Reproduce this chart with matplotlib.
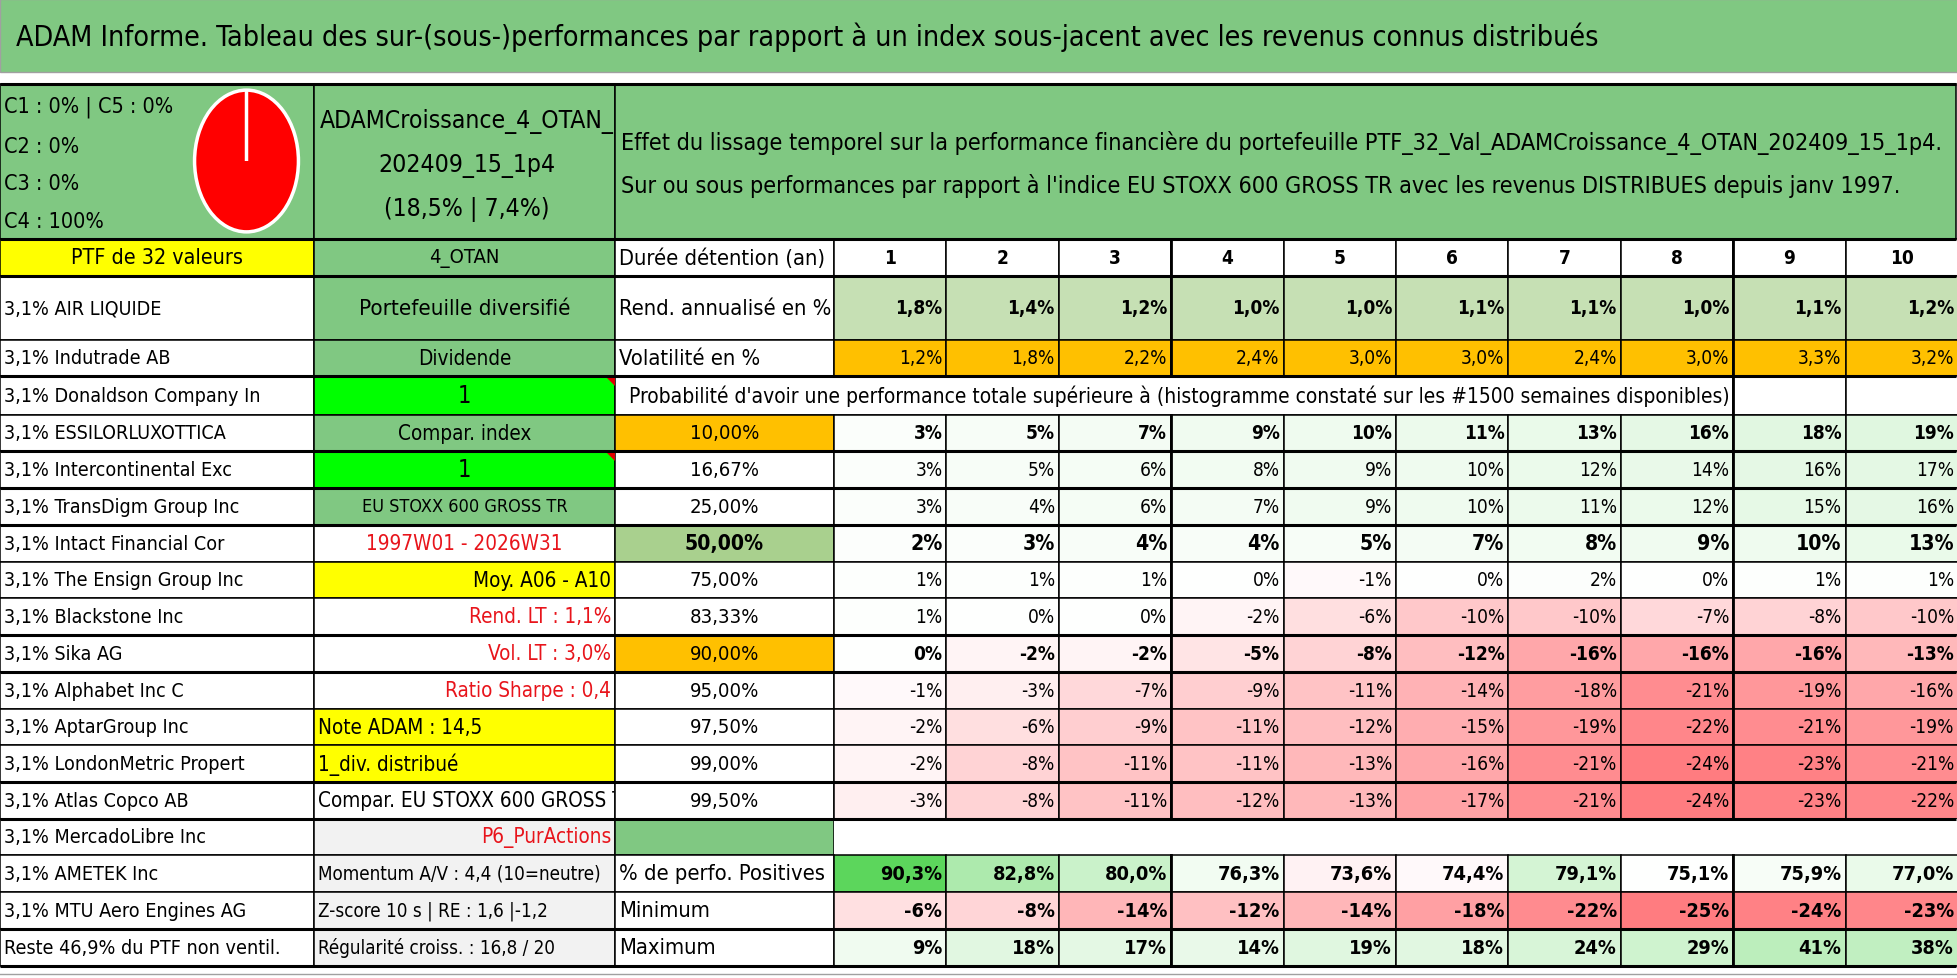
import matplotlib
matplotlib.use("Agg")
import matplotlib.pyplot as plt
import matplotlib.font_manager as fm
from matplotlib.patches import Rectangle, Polygon
from matplotlib.colors import LinearSegmentedColormap, TwoSlopeNorm
from matplotlib.transforms import Bbox, TransformedBbox

# narrow sans close to Calibri if one is installed
_names = {f.name for f in fm.fontManager.ttflist}
_files = [f.fname for f in fm.fontManager.ttflist]
if 'Liberation Sans Narrow' in _names:
    plt.rcParams['font.family'] = ['Liberation Sans Narrow', 'DejaVu Sans']
elif any('DejaVuSansCondensed' in f for f in _files):
    plt.rcParams['font.family'] = ['DejaVu Sans']
    plt.rcParams['font.stretch'] = 'condensed'
else:
    plt.rcParams['font.family'] = ['Liberation Sans', 'DejaVu Sans']

# ---- data ----
title = ("ADAM Informe. Tableau des sur-(sous-)performances par rapport à un index "
         "sous-jacent avec les revenus connus distribués")
pie_labels = ["C1 : 0% | C5 : 0%", "C2 : 0%", "C3 : 0%", "C4 : 100%"]
pie_values = [0, 0, 0, 100, 0]          # C1, C2, C3, C4, C5
ptf_name = ["ADAMCroissance_4_OTAN_", "202409_15_1p4", "(18,5% | 7,4%)"]
header_lines = [
    "Effet du lissage temporel sur la performance financière du portefeuille "
    "PTF_32_Val_ADAMCroissance_4_OTAN_202409_15_1p4.",
    "Sur ou sous performances par rapport à l'indice EU STOXX 600 GROSS TR "
    "avec les revenus DISTRIBUES depuis janv 1997.",
]
caption = ("Probabilité d'avoir une performance totale supérieure à "
           "(histogramme constaté sur les #1500 semaines disponibles)")
holdings = ["3,1% AIR LIQUIDE", "3,1% Indutrade AB", "3,1% Donaldson Company In",
            "3,1% ESSILORLUXOTTICA", "3,1% Intercontinental Exc",
            "3,1% TransDigm Group Inc", "3,1% Intact Financial Cor",
            "3,1% The Ensign Group Inc", "3,1% Blackstone Inc", "3,1% Sika AG",
            "3,1% Alphabet Inc C", "3,1% AptarGroup Inc",
            "3,1% LondonMetric Propert", "3,1% Atlas Copco AB",
            "3,1% MercadoLibre Inc", "3,1% AMETEK Inc",
            "3,1% MTU Aero Engines AG", "Reste 46,9% du PTF non ventil."]
years = [1, 2, 3, 4, 5, 6, 7, 8, 9, 10]
rend = [1.8, 1.4, 1.2, 1.0, 1.0, 1.1, 1.1, 1.0, 1.1, 1.2]
vol = [1.2, 1.8, 2.2, 2.4, 3.0, 3.0, 2.4, 3.0, 3.3, 3.2]
prob_levels = ["10,00%", "16,67%", "25,00%", "50,00%", "75,00%", "83,33%",
               "90,00%", "95,00%", "97,50%", "99,00%", "99,50%"]
perf = [
    [3, 5, 7, 9, 10, 11, 13, 16, 18, 19],
    [3, 5, 6, 8, 9, 10, 12, 14, 16, 17],
    [3, 4, 6, 7, 9, 10, 11, 12, 15, 16],
    [2, 3, 4, 4, 5, 7, 8, 9, 10, 13],
    [1, 1, 1, 0, -1, 0, 2, 0, 1, 1],
    [1, 0, 0, -2, -6, -10, -10, -7, -8, -10],
    [0, -2, -2, -5, -8, -12, -16, -16, -16, -13],
    [-1, -3, -7, -9, -11, -14, -18, -21, -19, -16],
    [-2, -6, -9, -11, -12, -15, -19, -22, -21, -19],
    [-2, -8, -11, -11, -13, -16, -21, -24, -23, -21],
    [-3, -8, -11, -12, -13, -17, -21, -24, -23, -22],
]
pct_positive = [90.3, 82.8, 80.0, 76.3, 73.6, 74.4, 79.1, 75.1, 75.9, 77.0]
minimum = [-6, -8, -14, -12, -14, -18, -22, -25, -24, -23]
maximum = [9, 18, 17, 14, 19, 18, 24, 29, 41, 38]

# ---- colours ----
GREEN = '#80C882'
LIME = '#00FF00'
YELLOW = '#FFFF00'
ORANGE = '#FFC000'
LGREEN = '#C6E0B4'
MGREEN = '#A9D08E'
GREY = '#F2F2F2'
RED_TXT = '#E8141B'
rwg = LinearSegmentedColormap.from_list('rwg', ['#FF7C80', 'white', '#5CD65C'])


def fr(v):
    return ("%.1f" % v).replace('.', ',') + "%"


W, H = 1958, 979
fig = plt.figure(figsize=(W / 100, H / 100), dpi=100)
ax = fig.add_axes([0, 0, 1, 1])
ax.set_xlim(0, W)
ax.set_ylim(H, 0)
ax.axis('off')
renderer = fig.canvas.get_renderer()


def fit(s, width, weight='normal'):
    # font size giving a rendered width of `width` pixels
    t = fig.text(0, 0, s, fontsize=10, fontweight=weight)
    w = t.get_window_extent(renderer).width
    t.remove()
    return 10.0 * width / w


K = 1.1   # the reference font is narrower, so let text run a bit wider
FS = fit("3,1% Donaldson Company In", 233) * K
FSB = fit("1,8%", 43, 'bold') * K
FSV = fit("16,67%", 63) * K
FSBIG = fit("50,00%", 75, 'bold') * 1.06
FSSMALL = fit("Momentum A/V : 4,4 (10=neutre)", 273) * 1.04

# layout (pixels)
xA, xB, xC, xV = 0, 314, 615, 834
cw = (W - xV) / 10.0
vx = [xV + cw * k for k in range(11)]
rows = [240, 277, 341, 377, 416, 452, 489, 526, 563, 599, 636, 673, 710, 746,
        783, 820, 856, 893, 930, 967]


def cell(x0, x1, y0, y1, fc='white'):
    ax.add_patch(Rectangle((x0, y0), x1 - x0, y1 - y0, facecolor=fc,
                           edgecolor='black', lw=1.1, zorder=1))


def txt(x, y, s, ha='left', size=None, weight='normal', color='black', clip=None):
    t = ax.text(x, y, s, ha=ha, va='center', fontsize=size or FS,
                fontweight=weight, color=color, zorder=3)
    if clip is not None:
        t.set_clip_on(True)
        t.set_clip_box(TransformedBbox(Bbox(clip), ax.transData))
    return t


def mid(i):
    return (rows[i] + rows[i + 1]) / 2.0


# title bar
ax.add_patch(Rectangle((0, 0), W, 73, facecolor=GREEN, edgecolor='#A0A0A0', lw=1))
txt(16, 37, title, size=fit(title, 1484) * 1.07)

# top block
cell(xA, xB, 85, 240, GREEN)
cell(xB, xC, 85, 240, GREEN)
cell(xC, W - 2, 85, 240, GREEN)
fs_c = fit(pie_labels[0], 155) * K
for lab, y in zip(pie_labels, [107, 147, 184, 222]):
    txt(4, y, lab, size=fs_c)
fs_n = fit(ptf_name[0], 286) * 1.03
for s, y in zip(ptf_name, [121, 166, 209]):
    txt((xB + xC) / 2 + 2, y, s, ha='center', size=fs_n)
fs_h = fit(header_lines[0], 1298) * 1.02
for s, y in zip(header_lines, [143, 186]):
    txt(621, y, s, size=fs_h)

pax = fig.add_axes([193 / W, 1 - 235 / H, 107 / W, 146 / H])
pax.pie(pie_values, colors=['#FFFFFF', '#FFFFFF', '#FFFFFF', '#FF0000', '#FFFFFF'],
        startangle=90, counterclock=False,
        wedgeprops=dict(edgecolor='white', linewidth=2.5))
pax.set_aspect('auto')
pax.set_xlim(-1.03, 1.03)
pax.set_ylim(-1.03, 1.03)

# row 0 : header
cell(xA, xB, rows[0], rows[1], YELLOW)
txt((xA + xB) / 2, mid(0), "PTF de 32 valeurs", ha='center',
    size=fit("PTF de 32 valeurs", 157) * K)
cell(xB, xC, rows[0], rows[1], GREEN)
txt((xB + xC) / 2, mid(0), "4_OTAN", ha='center', size=fit("4_OTAN", 64) * K)
cell(xC, xV, rows[0], rows[1])
fs_lab = fit("Durée détention (an)", 192) * 1.08
txt(xC + 4, mid(0), "Durée détention (an)", size=fs_lab)
for k, yv in enumerate(years):
    cell(vx[k], vx[k + 1], rows[0], rows[1])
    txt((vx[k] + vx[k + 1]) / 2, mid(0), str(yv), ha='center', weight='bold',
        size=FSB)

# holdings column
for i, name in enumerate(holdings):
    cell(xA, xB, rows[i + 1], rows[i + 2])
    txt(4, mid(i + 1), name)

# column B texts
colB = [
    ("Portefeuille diversifié", GREEN, 'center', 'black', 192),
    ("Dividende", GREEN, 'center', 'black', None),
    ("1", LIME, 'center', 'black', 'one'),
    ("Compar. index", GREEN, 'center', 'black', None),
    ("1", LIME, 'center', 'black', 'one'),
    ("EU STOXX 600 GROSS TR", GREEN, 'center', 'black', 188),
    ("1997W01 - 2026W31", 'white', 'center', RED_TXT, None),
    ("Moy. A06 - A10", YELLOW, 'right', 'black', None),
    ("Rend. LT : 1,1%", 'white', 'right', RED_TXT, None),
    ("Vol. LT : 3,0%", 'white', 'right', RED_TXT, None),
    ("Ratio Sharpe : 0,4", 'white', 'right', RED_TXT, None),
    ("Note ADAM : 14,5", YELLOW, 'left', 'black', None),
    ("1_div. distribué", YELLOW, 'left', 'black', None),
    ("Compar. EU STOXX 600 GROSS TR", 'white', 'left', 'black', None),
    ("P6_PurActions", GREY, 'right', RED_TXT, None),
    ("Momentum A/V : 4,4 (10=neutre)", GREY, 'left', 'black', 'small'),
    ("Z-score 10 s | RE : 1,6 |-1,2", GREY, 'left', 'black', 'small'),
    ("Régularité croiss. : 16,8 / 20", GREY, 'left', 'black', 'small'),
]
for i, (s, fc, ha, col, wd) in enumerate(colB):
    r = i + 1
    if wd == 'small':
        fs = FSSMALL
    elif wd == 'one':
        fs = FS * 1.2
    elif wd:
        fs = fit(s, wd) * K
    else:
        fs = FS * 1.05
    cell(xB, xC, rows[r], rows[r + 1], fc)
    x = {'center': (xB + xC) / 2, 'right': xC - 4, 'left': xB + 4}[ha]
    txt(x, mid(r), s, ha=ha, color=col, size=fs,
        clip=[[xB, rows[r]], [xC - 1, rows[r + 1]]])
    if s == "1":
        ax.add_patch(Polygon([[xC - 10, rows[r]], [xC, rows[r]], [xC, rows[r] + 10]],
                             closed=True, facecolor='#E00000', edgecolor='none',
                             zorder=2))

# rendement / volatilite
cell(xC, xV, rows[1], rows[2])
txt(xC + 4, mid(1), "Rend. annualisé en %", size=fs_lab)
cell(xC, xV, rows[2], rows[3])
txt(xC + 4, mid(2), "Volatilité en %", size=fs_lab)
for k in range(10):
    cell(vx[k], vx[k + 1], rows[1], rows[2], LGREEN)
    txt(vx[k + 1] - 4, mid(1), fr(rend[k]), ha='right', weight='bold', size=FSB)
    cell(vx[k], vx[k + 1], rows[2], rows[3], ORANGE)
    txt(vx[k + 1] - 4, mid(2), fr(vol[k]), ha='right', size=FSB)

# probability caption row
cell(xC, vx[8], rows[3], rows[4])
cell(vx[8], vx[9], rows[3], rows[4])
cell(vx[9], vx[10], rows[3], rows[4])
txt(629, mid(3), caption, size=fit(caption, 1051) * 1.05)

# probability matrix
mat_norm = TwoSlopeNorm(vmin=-24, vcenter=0, vmax=100)
lvl_bg = {0: ORANGE, 3: MGREEN, 6: ORANGE}
for j, lvl in enumerate(prob_levels):
    r = j + 4
    bold = j in (0, 3, 6)
    cell(xC, xV, rows[r], rows[r + 1], lvl_bg.get(j, 'white'))
    txt((xC + xV) / 2, mid(r), lvl, ha='center',
        size=FSBIG if j == 3 else FSV, weight='bold' if j == 3 else 'normal')
    for k in range(10):
        v = perf[j][k]
        cell(vx[k], vx[k + 1], rows[r], rows[r + 1], rwg(mat_norm(v)))
        txt(vx[k + 1] - 4, mid(r), "%d%%" % v, ha='right',
            size=FSBIG if j == 3 else FSB, weight='bold' if bold else 'normal')

# blank row
cell(xC, xV, rows[15], rows[16], GREEN)
ax.add_patch(Rectangle((xV, rows[15]), W - xV, rows[16] - rows[15],
                       facecolor='white', edgecolor='none', zorder=1))

# summary rows
summary = [("% de perfo. Positives", pct_positive,
            TwoSlopeNorm(vmin=60, vcenter=75.1, vmax=90.3), fr),
           ("Minimum", minimum, TwoSlopeNorm(vmin=-25, vcenter=0, vmax=100),
            lambda v: "%d%%" % v),
           ("Maximum", maximum, TwoSlopeNorm(vmin=-25, vcenter=0, vmax=100),
            lambda v: "%d%%" % v)]
for j, (lab, vals, nrm, f) in enumerate(summary):
    r = 16 + j
    cell(xC, xV, rows[r], rows[r + 1])
    txt(xC + 4, mid(r), lab, size=fs_lab)
    for k in range(10):
        cell(vx[k], vx[k + 1], rows[r], rows[r + 1], rwg(nrm(vals[k])))
        txt(vx[k + 1] - 4, mid(r), f(vals[k]), ha='right', weight='bold',
            size=FSB * 1.05)

# thicker borders
thick_y = [85, 240, 277, 377, 452, 489, 526, 636, 673, 783, 820, 930, 967]
for y in thick_y:
    ax.plot([0, W - 2], [y, y], color='black', lw=2.2, zorder=2,
            solid_capstyle='butt')
for y0, y1 in [(rows[0], rows[3]), (rows[4], rows[15]), (rows[16], rows[19])]:
    ax.plot([vx[3], vx[3]], [y0, y1], color='black', lw=2.0, zorder=2)
ax.plot([vx[8], vx[8]], [rows[0], rows[15]], color='black', lw=2.0, zorder=2)
ax.plot([vx[8], vx[8]], [rows[16], rows[19]], color='black', lw=2.0, zorder=2)
ax.plot([0, W], [975, 975], color='#A0A0A0', lw=1)

fig.savefig("out.png", dpi=100)
